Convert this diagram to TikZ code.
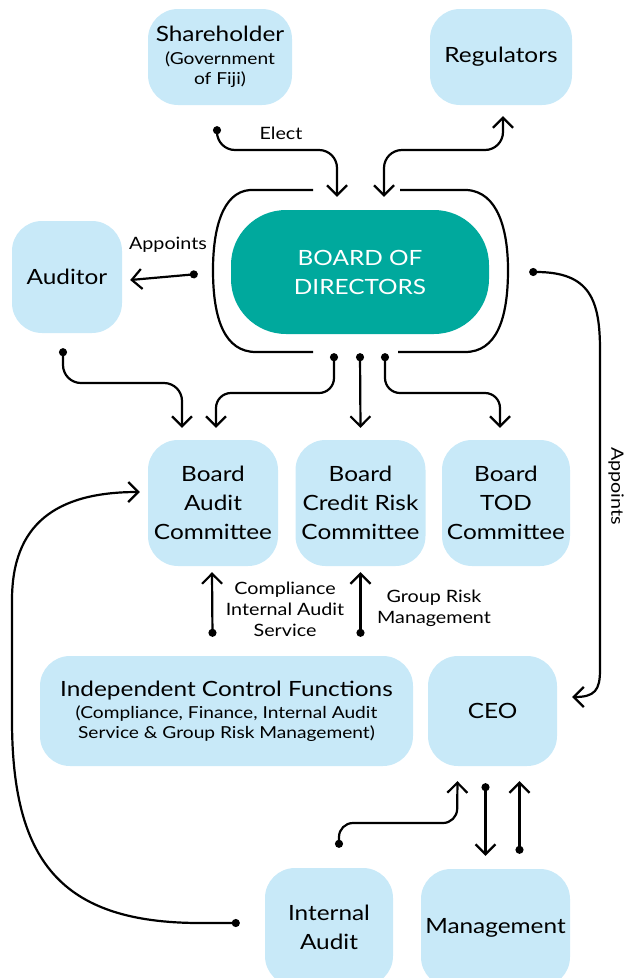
\documentclass[tikz,border=0pt]{standalone}
\usepackage{fontspec}
\setmainfont{Lato}[FakeStretch=1.16]
\usetikzlibrary{arrows.meta,positioning}

\definecolor{boxblue}{HTML}{C8E9F8}
\definecolor{boardteal}{HTML}{00A99D}

\newcommand{\bigf}{\fontsize{21}{29}\selectfont}
\newcommand{\smallf}{\fontsize{16.5}{20}\selectfont}

\tikzset{
  box/.style={fill=boxblue, rounded corners=30pt, align=center, inner sep=0pt, font=\bigf},
  conn/.style={line width=2.2pt, {Circle[length=8pt]}-{Straight Barb[length=10pt,width=20pt]}},
  twoway/.style={line width=2.2pt, {Straight Barb[length=10pt,width=20pt]}-{Straight Barb[length=10pt,width=20pt]}},
  lbl/.style={font=\fontsize{17}{21}\selectfont, align=center},
}

\begin{document}
\begin{tikzpicture}[x=1pt,y=-1pt]
	\useasboundingbox (0,0) rectangle (630,978);
	% top row
	\node[box, minimum width=144pt, minimum height=96pt, font=\smallf] (sh) at (220,57) {{\bigf Shareholder}\\[3pt](Government\\of Fiji)};
	\node[box, minimum width=142pt, minimum height=96pt] (reg) at (501,57) {Regulators};
	% board
	\node[fill=boardteal, text=white, rounded corners=55pt, minimum width=258pt, minimum height=124pt, align=center, font=\bigf] (bod) at (360,272) {BOARD OF\\DIRECTORS};
	\draw[line width=2.2pt] (313,190) -- (250,190) .. controls (222,192) and (213,230) .. (213,270) .. controls (213,320) and (225,352) .. (256,352) -- (313,352);
	\draw[line width=2.2pt] (400,190) -- (467,190) .. controls (498,192) and (508,230) .. (508,270) .. controls (508,320) and (496,352) .. (465,352) -- (398,352);
	\node[box, minimum width=110pt, minimum height=112pt] (aud) at (67,277) {Auditor};
	% committees
	\node[box, minimum width=130pt, minimum height=126pt] (bac) at (213,503) {Board\\Audit\\Committee};
	\node[box, minimum width=130pt, minimum height=126pt] (bcr) at (360.5,503) {Board\\Credit Risk\\Committee};
	\node[box, minimum width=128pt, minimum height=126pt] (btod) at (506,503) {Board\\TOD\\Committee};
	% control functions and ceo
	\node[box, minimum width=373pt, minimum height=110pt, font=\smallf] (icf) at (226.5,711) {{\bigf Independent Control Functions}\\[2pt](Compliance, Finance, Internal Audit\\Service \& Group Risk Management)};
	\node[box, minimum width=129pt, minimum height=110pt] (ceo) at (492.5,711) {CEO};
	% bottom row
	\node[box, minimum width=128pt, minimum height=118pt] (ia) at (329,927) {Internal\\Audit};
	\node[box, minimum width=149pt, minimum height=118pt] (mgmt) at (495.5,928) {Management};

	% connectors
	\draw[conn, rounded corners=18pt] ([xshift=-3pt,yshift=-21pt]sh.south) -- (217,150) -- (337,150) -- ([xshift=-23pt,yshift=13pt]bod.north);
	\node[lbl] (elect) at (281,133) {Elect};
	\draw[twoway, rounded corners=18pt] ([xshift=24pt,yshift=13pt]bod.north) -- (384,150) -- (503,150) -- ([xshift=2pt,yshift=-11pt]reg.south);
	\draw[conn] ([xshift=-33pt,yshift=-2pt]bod.west) -- ([xshift=8pt,yshift=-3pt]aud.east);
	\node[lbl] (app1) at (168,245) {Appoints};
	\draw[conn] ([xshift=40pt]bod.east) .. controls (590,272) and (600,300) .. (600,350) -- (600,670) .. controls (600,690) and (595,697) .. ([xshift=15pt,yshift=14pt]ceo.east);
	\node[lbl, rotate=-90] (app2) at (616,486) {Appoints};
	\draw[conn, rounded corners=18pt] ([xshift=-4pt,yshift=-15pt]aud.south) -- (63,383) -- (182,383) -- ([xshift=-31pt,yshift=12pt]bac.north);
	\draw[conn, rounded corners=15pt] ([xshift=-26pt,yshift=-19pt]bod.south) -- (334,393) -- (216,393) -- ([xshift=3pt,yshift=12pt]bac.north);
	\draw[conn] ([yshift=-19pt]bod.south) -- ([yshift=12pt]bcr.north);
	\draw[conn, rounded corners=15pt] ([xshift=25pt,yshift=-19pt]bod.south) -- (385,393) -- (500,393) -- ([xshift=-6pt,yshift=12pt]btod.north);
	\draw[conn] ([xshift=-14pt,yshift=19pt]icf.north) -- ([xshift=-1pt,yshift=-6pt]bac.south);
	\node[lbl] (comp) at (285,609) {Compliance\\Internal Audit\\Service};
	\draw[conn] ([xshift=134pt,yshift=19pt]icf.north) -- ([yshift=-6pt]bcr.south);
	\node[lbl] (grm) at (434,608) {Group Risk\\Management};
	\draw[conn, rounded corners=14pt] ([xshift=10pt,yshift=20pt]ia.north) -- (339,823) -- (457,823) -- ([xshift=-35pt,yshift=-15pt]ceo.south);
	\draw[conn] ([xshift=-7pt,yshift=-17pt]ceo.south) -- ([xshift=-10pt,yshift=13pt]mgmt.north);
	\draw[conn] ([xshift=24pt,yshift=15pt]mgmt.north) -- ([xshift=27pt,yshift=-15pt]ceo.south);
	\draw[conn] ([xshift=-25pt,yshift=4pt]ia.west) -- (200,923) .. controls (60,923) and (12,860) .. (12,720) -- (12,600) .. controls (12,525) and (55,492) .. ([xshift=-8pt,yshift=11pt]bac.west);
\end{tikzpicture}
\end{document}
